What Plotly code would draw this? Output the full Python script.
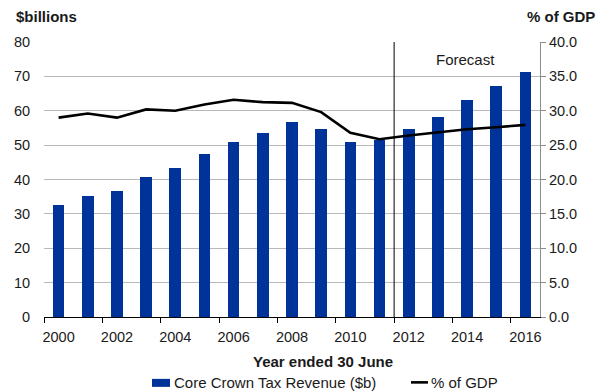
import plotly.graph_objects as go

# Core Crown tax revenue, year ended 30 June (2012 onwards are forecasts)
years = list(range(2000, 2017))
tax_revenue_b = [32.7, 35.3, 36.8, 40.6, 43.4, 47.4, 51.0, 53.6, 56.8, 54.7,
                 50.8, 51.6, 54.7, 58.3, 63.2, 67.2, 71.4]
pct_of_gdp = [29.0, 29.6, 29.0, 30.2, 30.0, 30.9, 31.6, 31.25, 31.15, 29.8,
              26.8, 25.85, 26.4, 26.9, 27.3, 27.6, 27.95]

left_ticks = list(range(0, 81, 10))
right_ticks = [v / 2 for v in left_ticks]
year_ticks = list(range(2000, 2017, 2))
forecast_start = 2011.5

BLUE = "#003399"
FONT = "Liberation Sans, Arial, sans-serif"
TXT = "#1a1a1a"

# plot-area geometry in pixels, used to place free text and the legend
L, R, T, B = 44, 540, 42, 316.7
W, H = 600, 392


def px_x(x):
    return (x - L) / (R - L)


def px_y(y):
    return (B - y) / (B - T)


fig = go.Figure()
fig.add_trace(go.Bar(x=years, y=tax_revenue_b, name="Core Crown Tax Revenue ($b)",
                     marker=dict(color=BLUE, line=dict(width=0)), width=0.4,
                     yaxis="y"))
fig.add_trace(go.Scatter(x=years, y=pct_of_gdp, name="% of GDP", mode="lines",
                         line=dict(color="black", width=2.6), yaxis="y2"))

fig.update_layout(
    width=W, height=H,
    margin=dict(l=L, r=W - R, t=T, b=H - B),
    paper_bgcolor="white", plot_bgcolor="white",
    showlegend=False,
    font=dict(family=FONT, size=15, color=TXT),
    xaxis=dict(range=[1999.5, 2016.5], tickmode="array", tickvals=year_ticks,
               ticktext=[str(y) for y in year_ticks],
               ticks="outside", ticklen=6, tickcolor="rgba(0,0,0,0)",
               tickfont=dict(size=14.5, color=TXT),
               showline=True, linecolor="black", linewidth=1.3,
               showgrid=False, zeroline=False,
               minor=dict(tick0=1999.5, dtick=2, ticks="outside", ticklen=5,
                          tickcolor="black", tickwidth=1, showgrid=False)),
    yaxis=dict(range=[0, 80], tickvals=left_ticks,
               ticks="outside", ticklen=10, tickcolor="rgba(0,0,0,0)",
               tickfont=dict(size=14.5, color=TXT),
               showgrid=True, gridcolor="#b8b8b8", gridwidth=1,
               zeroline=False, showline=False),
    yaxis2=dict(range=[0, 40], tickvals=right_ticks, tickformat=".1f",
                overlaying="y", side="right",
                ticks="outside", ticklen=5, tickcolor="#8c8c8c",
                tickfont=dict(size=14.5, color=TXT),
                showline=True, linecolor="#8c8c8c", linewidth=1,
                showgrid=False, zeroline=False),
    bargap=0,
)

# boundary between actuals and forecasts
fig.add_shape(type="line", xref="x", yref="y", x0=forecast_start, x1=forecast_start,
              y0=0, y1=80, line=dict(color="black", width=1))

annotations = [
    dict(text="<b>$billions</b>", x=px_x(14), y=px_y(17), xanchor="left"),
    dict(text="<b>% of GDP</b>", x=px_x(597), y=px_y(17), xanchor="right"),
    dict(text="Forecast", x=px_x(465), y=px_y(59), xanchor="center"),
    dict(text="<b>Year ended 30 June</b>", x=px_x(322.5), y=px_y(361), xanchor="center"),
    dict(text="Core Crown Tax Revenue ($b)", x=px_x(171.5), y=px_y(382), xanchor="left"),
    dict(text="% of GDP", x=px_x(428.5), y=px_y(382), xanchor="left"),
]
for a in annotations:
    fig.add_annotation(xref="paper", yref="paper", yanchor="middle", showarrow=False,
                       font=dict(family=FONT, size=15, color=TXT), **a)

# legend keys
fig.add_shape(type="rect", xref="paper", yref="paper",
              x0=px_x(152), x1=px_x(170), y0=px_y(386.5), y1=px_y(378.5),
              fillcolor=BLUE, line=dict(width=0))
fig.add_shape(type="line", xref="paper", yref="paper",
              x0=px_x(411), x1=px_x(428), y0=px_y(382), y1=px_y(382),
              line=dict(color="black", width=2.6))

fig.write_html("out.html")
